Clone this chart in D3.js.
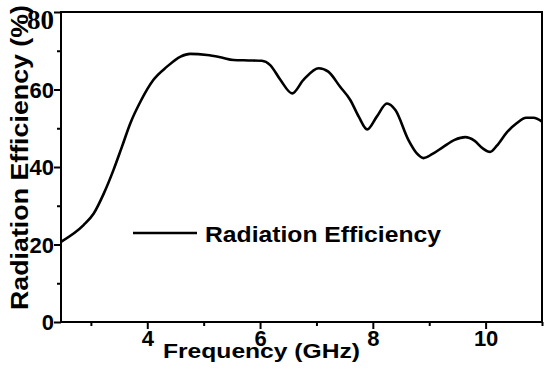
<!DOCTYPE html>
<html>
<head>
<meta charset="utf-8">
<script src="https://cdn.jsdelivr.net/npm/d3@7"></script>
<style>
  body { margin: 0; background: #fff; }
  text { font-family: Arial, "Liberation Sans", sans-serif; font-weight: bold; fill: #000; }
</style>
</head>
<body>
<svg id="chart" width="550" height="378"></svg>
<script>
// frequency (GHz)
var freq = [2.47, 2.87, 3.05, 3.23, 3.4, 3.55, 3.7, 3.88, 4.11, 4.35, 4.59, 4.76, 5.06, 5.3, 5.53, 5.8, 6.03, 6.18, 6.36, 6.57,
            6.77, 7.04, 7.21, 7.42, 7.6, 7.75, 7.9, 8.07, 8.25, 8.4, 8.63, 8.78, 8.9, 9.05,
            9.25, 9.45, 9.64, 9.8, 9.95, 10.08, 10.2, 10.38, 10.55, 10.72, 10.85, 11.0];
// radiation efficiency (%)
var effic = [20.7, 25.0, 28.0, 33.2, 39.2, 45.2, 51.3, 56.9, 62.5, 65.9, 68.5, 69.2, 68.9, 68.3, 67.6, 67.5, 67.4, 66.3, 62.5, 59.0,
             62.5, 65.5, 64.6, 60.7, 57.3, 53.0, 49.7, 53.0, 56.4, 54.7, 47.0, 43.5, 42.3, 43.3,
             45.2, 47.0, 47.7, 46.8, 44.8, 43.9, 45.5, 49.0, 51.3, 52.7, 52.7, 51.7];
var xMajor = [4, 6, 8, 10];
var xMinor = [3, 5, 7, 9, 11];
var yMajor = [0, 20, 40, 60, 80];
var yMinor = [10, 30, 50, 70];
var legendLabel = "Radiation Efficiency";

var svg = d3.select("#chart");
var x = d3.scaleLinear().domain([2.47, 11]).range([61, 542]);
var y = d3.scaleLinear().domain([0, 80]).range([322, 12]);

// minor ticks first, no labels
svg.append("g").attr("transform", "translate(0,322)")
   .call(d3.axisBottom(x).tickValues(xMinor).tickSize(4).tickFormat(""))
   .call(function(g){ g.select(".domain").remove(); g.selectAll("line").attr("stroke-width", 2); });
svg.append("g").attr("transform", "translate(61,0)")
   .call(d3.axisLeft(y).tickValues(yMinor).tickSize(4).tickFormat(""))
   .call(function(g){ g.select(".domain").remove(); g.selectAll("line").attr("stroke-width", 2); });

// major ticks
var xAx = svg.append("g").attr("transform", "translate(0,322)")
   .call(d3.axisBottom(x).tickValues(xMajor).tickSize(7).tickFormat(d3.format("d")));
xAx.select(".domain").remove();
xAx.selectAll("line").attr("stroke-width", 2);
xAx.selectAll("text").attr("y", 24).attr("dy", 0)
   .style("font-size", "22px").style("font-family", "Arial, 'Liberation Sans', sans-serif").style("font-weight", "bold");

var yAx = svg.append("g").attr("transform", "translate(61,0)")
   .call(d3.axisLeft(y).tickValues(yMajor).tickSize(7).tickFormat(d3.format("d")));
yAx.select(".domain").remove();
yAx.selectAll("line").attr("stroke-width", 2);
yAx.selectAll("text").attr("x", -7).attr("dy", "0.36em")
   .style("font-size", "22px").style("font-family", "Arial, 'Liberation Sans', sans-serif").style("font-weight", "bold");
// the top label is set in a serif face in the original
yAx.selectAll("text").filter(function(d){ return d == 80; })
   .attr("dy", 0).attr("y", 16)
   .style("font-family", "'Liberation Serif', 'Times New Roman', serif").style("font-size", "27px");

// frame
svg.append("rect").attr("x", 61).attr("y", 12).attr("width", 481).attr("height", 310)
   .attr("fill", "none").attr("stroke", "#000").attr("stroke-width", 2);

// curve
var pts = freq.map(function(f, i){ return [f, effic[i]]; });
var line = d3.line().x(function(d){ return x(d[0]); }).y(function(d){ return y(d[1]); })
             .curve(d3.curveMonotoneX);
svg.append("path").datum(pts).attr("d", line)
   .attr("fill", "none").attr("stroke", "#000").attr("stroke-width", 2.6);

// legend
svg.append("line").attr("x1", 133).attr("x2", 197).attr("y1", 233).attr("y2", 233)
   .attr("stroke", "#000").attr("stroke-width", 2.6);
svg.append("text").attr("x", 205).attr("y", 242).style("font-size", "22px")
   .attr("textLength", 236).attr("lengthAdjust", "spacingAndGlyphs").text(legendLabel);

// axis titles
svg.append("text").attr("x", 163).attr("y", 358).style("font-size", "20px")
   .attr("textLength", 197).attr("lengthAdjust", "spacingAndGlyphs").text("Frequency (GHz)");
svg.append("text").attr("transform", "translate(28,310) rotate(-90)").style("font-size", "24px")
   .attr("textLength", 305).attr("lengthAdjust", "spacingAndGlyphs").text("Radiation Efficiency (%)");
</script>
</body>
</html>
